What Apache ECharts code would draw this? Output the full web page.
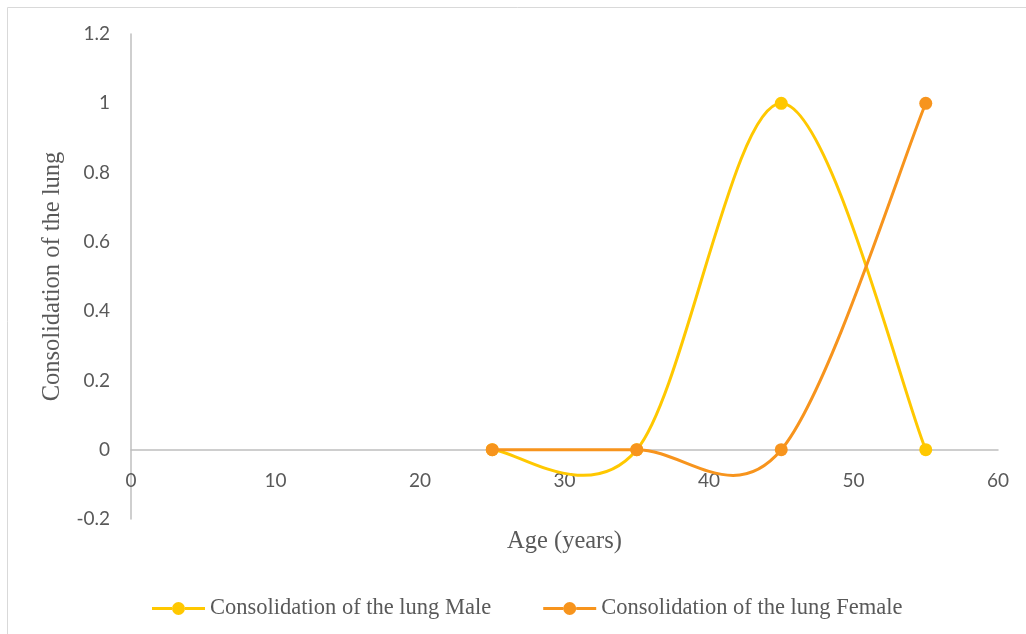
<!DOCTYPE html>
<html>
<head>
<meta charset="utf-8">
<script src="https://cdn.jsdelivr.net/npm/echarts@6/dist/echarts.min.js"></script>
<style>html,body{margin:0;padding:0;background:#fff;}#c{width:1026px;height:634px;}</style>
</head>
<body>
<div id="c"></div>
<script>
const ages = [25, 35, 45, 55];
const maleValues = [0, 0, 1, 0];
const femaleValues = [0, 0, 0, 1];
const seriesNames = ['Consolidation of the lung Male', 'Consolidation of the lung Female'];
const xTitle = 'Age (years)';
const yTitle = 'Consolidation of the lung';

const colors = ['#FFC800', '#F7941D'];
const chart = echarts.init(document.getElementById('c'));
const tickFont = { color: '#595959', fontSize: 19, fontFamily: 'Lato, "Open Sans", sans-serif' };
const serif = '"Liberation Serif", "DejaVu Serif", serif';

// Excel-style smoothed segments, computed in pixel space from the axis scales
function curveSeries(name, xs, ys, color, z) {
  return {
    name: name, type: 'custom', z: z,
    encode: { x: 0, y: 1 },
    data: xs.map((x, i) => [x, ys[i]]),
    renderItem: function (params, api) {
      const i = params.dataIndex, n = xs.length;
      if (i >= n - 1) return null;
      const P = k => { k = Math.max(0, Math.min(n - 1, k)); return api.coord([xs[k], ys[k]]); };
      const p0 = P(i - 1), p1 = P(i), p2 = P(i + 1), p3 = P(i + 2);
      return {
        type: 'bezierCurve',
        shape: {
          x1: p1[0], y1: p1[1], x2: p2[0], y2: p2[1],
          cpx1: p1[0] + (p2[0] - p0[0]) / 6, cpy1: p1[1] + (p2[1] - p0[1]) / 6,
          cpx2: p2[0] - (p3[0] - p1[0]) / 6, cpy2: p2[1] - (p3[1] - p1[1]) / 6
        },
        style: { stroke: color, lineWidth: 3, fill: null, lineCap: 'round' },
        silent: true
      };
    }
  };
}
function markerSeries(name, xs, ys, color, z) {
  return {
    name: name, type: 'scatter', z: z,
    data: xs.map((x, i) => [x, ys[i]]),
    symbol: 'circle', symbolSize: 13,
    itemStyle: { color: color, opacity: 1 }
  };
}
const legendIcon = 'path://M0,5.5 H20 V8.5 H0 Z M33,5.5 H53 V8.5 H33 Z M20,7 A6.5,6.5 0 1 1 33,7 A6.5,6.5 0 1 1 20,7 Z';

chart.setOption({
  animation: false,
  graphic: [{ type: 'rect', shape: { x: 7.5, y: 7.5, width: 1040, height: 650 },
    style: { fill: 'none', stroke: '#D9D9D9', lineWidth: 1 }, silent: true }],
  grid: { left: 131, right: 28, top: 34, bottom: 115 },
  xAxis: {
    type: 'value', min: 0, max: 60, interval: 10,
    axisLine: { show: true, onZero: true, lineStyle: { color: '#BFBFBF', width: 1.5 } },
    axisTick: { show: false }, splitLine: { show: false },
    axisLabel: Object.assign({ margin: -48 }, tickFont),
    name: xTitle, nameLocation: 'middle', nameGap: 10,
    nameTextStyle: { color: '#595959', fontSize: 24.5, fontFamily: serif }
  },
  yAxis: {
    type: 'value', min: -0.2, max: 1.2, interval: 0.2,
    axisLine: { show: true, lineStyle: { color: '#BFBFBF', width: 1.5 } },
    axisTick: { show: false }, splitLine: { show: false },
    axisLabel: Object.assign({ margin: 21, formatter: v => String(Math.round(v * 10) / 10) }, tickFont),
    name: yTitle, nameLocation: 'middle', nameGap: 62,
    nameTextStyle: { color: '#595959', fontSize: 24.5, fontFamily: serif }
  },
  legend: {
    bottom: 9, left: 147, itemWidth: 53, itemHeight: 13, itemGap: 52,
    textStyle: { color: '#595959', fontSize: 22.5, fontFamily: serif },
    data: seriesNames.map((nm, i) => ({ name: nm, icon: legendIcon, itemStyle: { color: colors[i] } }))
  },
  series: [
    curveSeries(seriesNames[0], ages, maleValues, colors[0], 2),
    markerSeries(seriesNames[0], ages, maleValues, colors[0], 3),
    curveSeries(seriesNames[1], ages, femaleValues, colors[1], 4),
    markerSeries(seriesNames[1], ages, femaleValues, colors[1], 5)
  ]
});
</script>
</body>
</html>
